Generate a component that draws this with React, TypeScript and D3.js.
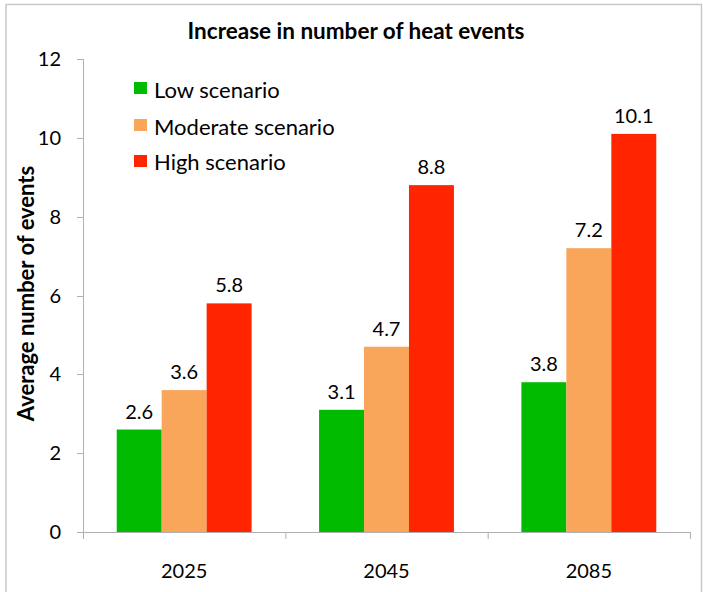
import React from "react";
import * as d3 from "d3";

const categories = ["2025", "2045", "2085"];
const seriesNames = ["Low scenario", "Moderate scenario", "High scenario"];
const lowValues = [2.6, 3.1, 3.8];
const moderateValues = [3.6, 4.7, 7.2];
const highValues = [5.8, 8.8, 10.1];
const yTicks = [0, 2, 4, 6, 8, 10, 12];
const colors = ["#00BB00", "#F9A55A", "#FF2500"];

const W = 703, H = 592;
const left = 83, right = 690, top = 59, bottom = 532;
const FONT = "Lato, 'Open Sans', sans-serif";

export default function App() {
  const series = [lowValues, moderateValues, highValues];
  const x = d3.scaleBand().domain(categories).range([left, right]).paddingInner(0).paddingOuter(0);
  // 3 bars of width w with 0.75w gap each side => band = 4.5w
  const w = x.bandwidth() / 4.5;
  const y = d3.scaleLinear().domain([0, 12]).range([bottom, top]);
  const axisColor = "#B0B0B0";
  return (
    <svg width={W} height={H} style={{ position: "absolute", left: 0, top: 0, background: "#fff" }} fontFamily={FONT}>
      <rect x={6} y={4.5} width={695.5} height={600} fill="#fff" stroke="#C8C8C8" strokeWidth={1.5} />
      <text x={356} y={39} textAnchor="middle" fontSize={22.5} fontWeight="bold" fill="#000">Increase in number of heat events</text>
      {/* y axis */}
      <line x1={left + 0.5} x2={left + 0.5} y1={top} y2={bottom} stroke={axisColor} />
      {yTicks.map((t) => (
        <g key={t}>
          <line x1={left - 6} x2={left} y1={Math.round(y(t)) + 0.5} y2={Math.round(y(t)) + 0.5} stroke={axisColor} />
          <text x={61} y={y(t)} dy="0.35em" textAnchor="end" fontSize={20} fill="#000">{t}</text>
        </g>
      ))}
      <text transform={`translate(34,${(top + bottom) / 2 - 2}) rotate(-90)`} textAnchor="middle" fontSize={22} fontWeight="bold" fill="#000">Average number of events</text>
      {/* bars */}
      {categories.map((c, ci) => (
        <g key={c}>
          {series.map((vals, si) => {
            const bx = (x(c) as number) + 0.75 * w + si * w;
            return (
              <g key={si}>
                <rect x={bx} y={y(vals[ci])} width={w} height={y(0) - y(vals[ci])} fill={colors[si]} />
                <text x={bx + w / 2} y={y(vals[ci]) - 11} textAnchor="middle" fontSize={20} fill="#000">{vals[ci]}</text>
              </g>
            );
          })}
          <text x={(x(c) as number) + x.bandwidth() / 2} y={578} textAnchor="middle" fontSize={20} fill="#000">{c}</text>
        </g>
      ))}
      {/* x axis */}
      <line x1={left - 6} x2={right} y1={bottom + 0.5} y2={bottom + 0.5} stroke={axisColor} />
      {[...categories.map((c) => x(c) as number), right].map((p, i) => (
        <line key={i} x1={p + 0.5} x2={p + 0.5} y1={bottom} y2={bottom + 7} stroke={axisColor} />
      ))}
      {/* legend */}
      {seriesNames.map((n, i) => (
        <g key={n}>
          <rect x={134} y={[82, 119, 155][i]} width={13} height={12} fill={colors[i]} />
          <text x={154} y={[90, 127, 162][i]} dy="0.35em" fontSize={22} fill="#000">{n}</text>
        </g>
      ))}
    </svg>
  );
}
